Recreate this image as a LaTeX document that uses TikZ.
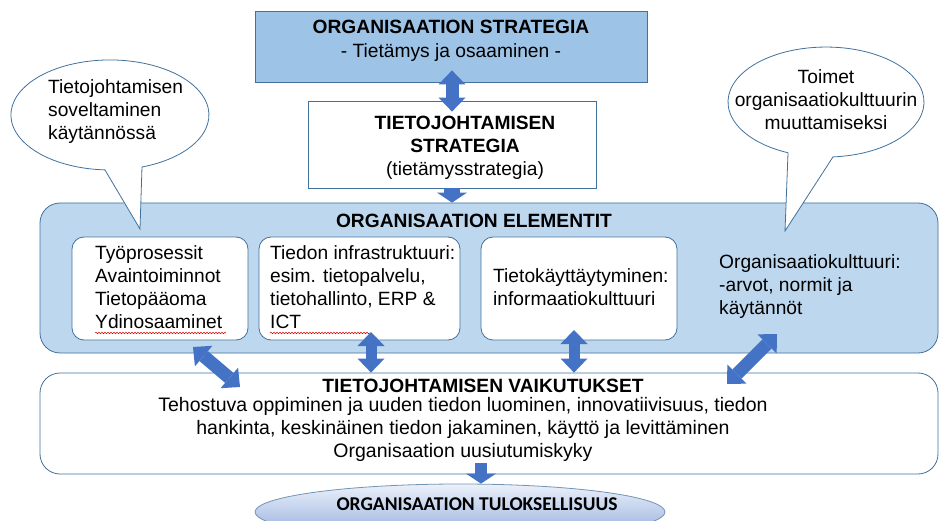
\documentclass[tikz,border=0pt]{standalone}
\usepackage{fontspec}
\setmainfont{Liberation Sans}
\newfontfamily\carlitofont{Carlito}
\usetikzlibrary{arrows.meta,shapes.geometric,decorations.pathmorphing}

\definecolor{stratfill}{RGB}{157,195,230}
\definecolor{elemfill}{RGB}{189,215,238}
\definecolor{edgeblue}{RGB}{65,113,156}
\definecolor{arrowblue}{RGB}{68,114,196}
\definecolor{resulttop}{RGB}{236,241,250}
\definecolor{resultbot}{RGB}{143,170,220}

\begin{document}
\begin{tikzpicture}[x=1pt,y=-1pt,
  txt/.style={font=\fontsize{19.2}{23}\selectfont, inner sep=0pt, text=black,
              execute at begin node=\strut},
  panel/.style={draw=edgeblue, line width=0.8pt, inner sep=0pt},
  roundbox/.style={panel, fill=white, rounded corners=12pt},
  bubble/.style={draw=edgeblue, line width=0.8pt, fill=white},
  dblarrow/.style={arrowblue, line width=#1,
     {Triangle[length=14pt 0 0,width=27pt 0 0,line width=0pt]}-{Triangle[length=14pt 0 0,width=27pt 0 0,line width=0pt]}},
  dblarrow/.default=13pt,
  downarrow/.style={arrowblue, line width=#1,
     -{Triangle[length=10pt 0 0,width=30pt 0 0,line width=0pt]}},
  downarrow/.default=16pt,
  spellmark/.style={red!85!black, line width=0.5pt, decorate,
     decoration={snake, amplitude=0.7pt, segment length=3pt}}
]
\useasboundingbox (0,0) rectangle (939,521);

% ---- boxes ----
\node[panel, fill=stratfill, minimum width=392pt, minimum height=71pt] (strat) at (451,46.5) {};
\node[panel, fill=white, minimum width=288pt, minimum height=87pt] (tjs) at (452,144.5) {};
\node[panel, fill=elemfill, rounded corners=20pt, minimum width=898pt, minimum height=150pt] (elem) at (489,278) {};
\node[roundbox, minimum width=176pt, minimum height=103pt] (box1) at (160,288.5) {};
\node[roundbox, minimum width=201pt, minimum height=103pt] (box2) at (359.5,288.5) {};
\node[roundbox, minimum width=196pt, minimum height=103pt] (box3) at (579,288.5) {};
\node[panel, fill=white, rounded corners=20pt, minimum width=898pt, minimum height=101pt] (effects) at (489,423.5) {};

% ---- result ellipse (runs off the lower edge) ----
\begin{scope}
  \clip (0,0) rectangle (939,521);
  \node[ellipse, draw=edgeblue!75, line width=0.8pt, top color=resulttop, bottom color=resultbot,
        minimum width=410pt, minimum height=56pt, inner sep=0pt] (result) at (460,512) {};
\end{scope}

% ---- speech bubbles ----
\draw[bubble] (142,167) arc[start angle=71.1, end angle=-267.1, x radius=99, y radius=55]
  -- (140,229) -- cycle;
\draw[bubble] (833,156.9) arc[start angle=85.9, end angle=-247.2, x radius=98, y radius=55]
  -- (785,231) -- cycle;

% ---- texts ----
\node[txt, font=\fontsize{19.2}{24}\selectfont, align=center, anchor=north] (strattext) at (451,20.2)
  {\textbf{ORGANISAATION STRATEGIA}\\- Tietämys ja osaaminen -};
\node[txt, align=center, anchor=north] (tjstext) at (465,115.9)
  {\textbf{TIETOJOHTAMISEN}\\\textbf{STRATEGIA}\\(tietämysstrategia)};
\node[txt, anchor=base, execute at begin node={}] (elemtitle) at (474,228)
  {\textbf{ORGANISAATION ELEMENTIT}};
\node[txt, align=left, anchor=north west] (box1text) at (95,244.9)
  {Työprosessit\\Avaintoiminnot\\Tietopääoma\\Ydinosaaminet};
\node[txt, align=left, anchor=north west] (box2text) at (270,244.9)
  {Tiedon infrastruktuuri:\\esim. tietopalvelu,\\tietohallinto, ERP \&\\ICT};
\node[txt, align=left, anchor=north west] (box3text) at (493,267.9)
  {Tietokäyttäytyminen:\\informaatiokulttuuri};
\node[txt, align=left, anchor=north west] (orgtext) at (719,253.9)
  {Organisaatiokulttuuri:\\-arvot, normit ja\\käytännöt};
\node[txt, align=left, anchor=north west] (lefttext) at (48,78.9)
  {Tietojohtamisen\\soveltaminen\\käytännössä};
\node[txt, align=center, anchor=north] (righttext) at (826,69.4)
  {Toimet\\organisaatiokulttuurin\\muuttamiseksi};
\node[txt, anchor=base, execute at begin node={}] (efftitle) at (483,392)
  {\textbf{TIETOJOHTAMISEN VAIKUTUKSET}};
\node[txt, font=\fontsize{19.5}{23}\selectfont, align=center, anchor=north,
      execute at begin node={}] (efftext) at (463,396.8)
  {Tehostuva oppiminen ja uuden tiedon luominen, innovatiivisuus, tiedon\\
   hankinta, keskinäinen tiedon jakaminen, käyttö ja levittäminen\\
   Organisaation uusiutumiskyky};
\node[inner sep=0pt, anchor=base, font=\carlitofont\bfseries\fontsize{19.5}{23}\selectfont] (resulttext) at (477,510)
  {ORGANISAATION TULOKSELLISUUS};

% spelling marks under two words
\draw[spellmark] (95,333) -- (226,333);
\draw[spellmark] (270,333) -- (370,333);

% ---- connectors ----
\coordinate (s0) at ([yshift=12pt]strat.south);
\coordinate (s1) at ([yshift=-11pt]tjs.north);
\draw[dblarrow] (s1 |- s0) -- (s1);
\draw[downarrow] (tjs.south) -- (tjs.south |- elem.north);

\coordinate (d1a) at (193,347);
\coordinate (d1b) at (240,387);
\draw[dblarrow] (d1a) -- (d1b);

\coordinate (a2) at (371,332);
\draw[dblarrow=11pt] (a2) -- (a2 |- effects.north);

\coordinate (a3) at (574,330);
\draw[dblarrow=11pt] (a3) -- (a3 |- effects.north);

\coordinate (d4a) at (777,334);
\coordinate (d4b) at (727,384);
\draw[dblarrow] (d4a) -- (d4b);

\coordinate (r1) at (481,463);
\draw[downarrow=12pt] (r1) -- (r1 |- result.north);
\end{tikzpicture}
\end{document}
